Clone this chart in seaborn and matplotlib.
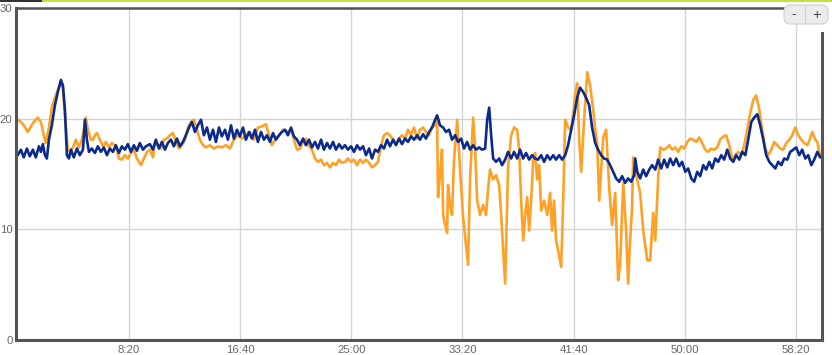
import matplotlib
matplotlib.use("Agg")
import matplotlib.pyplot as plt
from matplotlib.ticker import FuncFormatter, FixedLocator
from matplotlib.patches import FancyBboxPatch, Rectangle
import seaborn as sns
import pandas as pd

# ---- data (time in seconds, value) ----
navy_t = [0, 14, 27, 41, 54, 68, 81, 95, 104, 113, 122, 131, 140, 153, 167, 180, 194, 203, 212, 221,
          230, 239, 252, 266, 279, 293, 302, 311, 320, 333, 347, 360, 374, 387, 401, 414, 428, 441, 455,
          468, 482, 495, 509, 522, 536, 549, 563, 576, 594, 608, 621, 635, 648, 662, 675, 689, 702, 716,
          729, 743, 756, 770, 783, 797, 810, 824, 837, 851, 864, 878, 891, 905, 918, 932, 945, 959, 972,
          986, 999, 1013, 1026, 1040, 1053, 1067, 1080, 1094, 1107, 1121, 1134, 1148, 1161, 1175, 1188,
          1202, 1215, 1229, 1242, 1256, 1269, 1283, 1296, 1310, 1323, 1337, 1350, 1364, 1377, 1391, 1404,
          1418, 1431, 1445, 1458, 1472, 1485, 1499, 1512, 1526, 1539, 1553, 1566, 1580, 1593, 1607, 1620,
          1634, 1647, 1661, 1674, 1688, 1701, 1715, 1728, 1742, 1755, 1769, 1782, 1796, 1809, 1823, 1836,
          1850, 1863, 1877, 1886, 1899, 1913, 1926, 1940, 1953, 1967, 1980, 1994, 2007, 2021, 2034, 2048,
          2061, 2075, 2088, 2102, 2111, 2120, 2129, 2138, 2151, 2165, 2178, 2192, 2205, 2219, 2232, 2246,
          2259, 2273, 2286, 2300, 2313, 2327, 2340, 2354, 2367, 2381, 2394, 2408, 2421, 2435, 2448, 2462,
          2475, 2489, 2502, 2516, 2529, 2543, 2556, 2570, 2583, 2597, 2610, 2624, 2637, 2651, 2664, 2678,
          2691, 2705, 2718, 2732, 2745, 2759, 2772, 2777, 2786, 2799, 2813, 2826, 2840, 2853, 2867, 2880,
          2894, 2907, 2921, 2934, 2948, 2961, 2975, 2988, 3002, 3015, 3029, 3042, 3056, 3069, 3083, 3096,
          3110, 3123, 3137, 3150, 3164, 3177, 3191, 3204, 3218, 3231, 3245, 3258, 3272, 3285, 3299, 3312,
          3326, 3339, 3353, 3366, 3380, 3393, 3407, 3420, 3434, 3447, 3461, 3474, 3488, 3501, 3515, 3528,
          3542, 3555, 3569, 3582, 3596, 3609]
navy_v = [16.7, 17.2, 16.5, 17.3, 16.6, 17.2, 16.5, 17.5, 17.0, 17.7, 16.7, 16.4, 18.1, 19.4, 21.2, 22.4, 23.5, 23.0, 20.8, 16.7,
          16.4, 17.2, 16.5, 17.3, 16.7, 17.2, 19.9, 18.1, 17.0, 17.3, 16.9, 17.5, 17.0, 17.4, 16.7, 17.3, 17.0, 17.6, 16.9,
          17.5, 17.2, 17.7, 17.0, 17.6, 17.1, 17.8, 17.2, 17.5, 17.7, 17.2, 18.1, 17.3, 17.9, 17.2, 17.8, 18.1, 17.5, 18.2,
          17.5, 17.9, 18.5, 19.2, 19.7, 18.8, 19.4, 19.9, 18.5, 19.2, 18.1, 19.0, 17.9, 19.2, 18.4, 19.0, 18.1, 19.4, 18.2,
          19.0, 18.4, 19.2, 18.1, 18.8, 18.2, 19.0, 17.9, 18.8, 18.1, 18.5, 17.9, 18.7, 18.1, 18.5, 18.8,
          19.0, 18.5, 19.2, 18.4, 18.1, 17.6, 18.2, 17.6, 18.1, 17.4, 17.9, 17.3, 18.1, 17.2, 17.8, 17.3,
          17.9, 17.2, 17.7, 17.3, 17.6, 17.2, 17.5, 17.0, 17.6, 17.2, 17.5, 16.7, 17.3, 16.4, 17.2, 17.0,
          17.6, 17.3, 18.1, 17.5, 18.1, 17.6, 18.2, 17.7, 18.2, 17.9, 18.4, 18.1, 18.5, 18.1, 18.6, 18.2,
          18.8, 19.2, 19.9, 20.3, 19.4, 19.2, 18.8, 19.0, 18.1, 18.5, 17.9, 18.2, 17.3, 17.9, 17.2, 17.6,
          17.2, 17.4, 17.2, 17.3, 19.9, 21.0, 18.5, 16.4, 16.1, 16.4, 15.8, 16.3, 17.0, 16.4, 17.0, 16.4,
          17.2, 16.4, 16.9, 16.3, 16.7, 16.4, 16.3, 16.7, 16.1, 16.7, 16.3, 16.7, 16.3, 16.7, 16.3, 16.7,
          17.6, 19.0, 20.3, 21.9, 22.8, 22.4, 21.9, 21.2, 19.2, 17.8, 17.2, 16.7, 16.4, 16.3, 15.8, 15.2,
          14.6, 14.3, 14.8, 14.2, 14.6, 14.3, 14.9, 16.4, 15.2, 14.6, 15.4, 14.8, 15.4, 15.8, 15.4, 16.3,
          15.5, 16.3, 15.6, 16.4, 15.8, 16.4, 15.7, 16.1, 15.2, 15.5, 14.6, 14.3, 15.2, 14.8, 15.8, 15.4,
          16.1, 15.5, 16.4, 16.1, 16.7, 16.3, 17.2, 16.4, 16.1, 16.7, 16.3, 17.0, 16.7, 18.1, 19.7, 20.1,
          20.4, 19.4, 18.1, 16.7, 16.1, 15.8, 15.5, 16.1, 15.8, 16.4, 16.3, 17.0, 17.2, 17.4, 16.7, 17.2,
          16.4, 16.7, 15.8, 16.3, 17.0, 16.5]

orange_t = [0, 14, 27, 45, 59, 72, 90, 104, 117, 126, 140, 153, 167, 180, 194, 203, 212, 225, 239, 252,
            261, 275, 288, 297, 306, 315, 329, 338, 347, 356, 369, 383, 396, 410, 423, 441, 455, 468, 482,
            495, 509, 522, 536, 554, 567, 581, 594, 608, 617, 630, 644, 657, 671, 684, 698, 711, 725, 738,
            752, 765, 779, 792, 806, 819, 833, 846, 864, 882, 900, 918, 936, 954, 972, 990, 1008, 1026,
            1044, 1062, 1080, 1098, 1116, 1130, 1143, 1157, 1175, 1193, 1211, 1229, 1242, 1256, 1269, 1283,
            1296, 1310, 1323, 1337, 1350, 1364, 1377, 1391, 1404, 1418, 1431, 1445, 1458, 1472, 1485, 1499,
            1512, 1526, 1539, 1553, 1566, 1580, 1593, 1607, 1620, 1634, 1647, 1661, 1674, 1688, 1701, 1715,
            1728, 1742, 1755, 1769, 1782, 1796, 1809, 1823, 1836, 1850, 1863, 1877, 1886, 1890, 1899, 1908,
            1913, 1922, 1931, 1935, 1944, 1953, 1962, 1976, 1989, 2003, 2016, 2025, 2034, 2048, 2057, 2066,
            2079, 2093, 2106, 2115, 2124, 2138, 2151, 2165, 2174, 2183, 2192, 2205, 2219, 2232, 2246, 2255,
            2264, 2273, 2282, 2291, 2300, 2309, 2318, 2327, 2336, 2345, 2354, 2367, 2381, 2394, 2403, 2412,
            2421, 2430, 2444, 2453, 2462, 2475, 2489, 2498, 2507, 2516, 2525, 2534, 2547, 2561, 2574, 2588,
            2597, 2606, 2615, 2624, 2633, 2646, 2660, 2673, 2687, 2700, 2709, 2723, 2736, 2745, 2754, 2763,
            2768, 2781, 2799, 2813, 2831, 2844, 2858, 2867, 2880, 2889, 2903, 2916, 2930, 2943, 2957, 2970,
            2984, 2997, 3011, 3024, 3038, 3051, 3065, 3078, 3092, 3105, 3119, 3132, 3146, 3159, 3173, 3186,
            3200, 3213, 3227, 3240, 3254, 3267, 3281, 3294, 3308, 3321, 3335, 3348, 3362, 3375, 3389, 3402,
            3416, 3429, 3443, 3456, 3470, 3483, 3497, 3510, 3524, 3537, 3551, 3564, 3573, 3587, 3596, 3609]
orange_v = [19.9, 19.7, 19.4, 18.8, 19.3, 19.7, 20.1, 19.7, 18.5, 17.8, 19.2, 21.0, 21.9, 22.6, 23.2, 22.8, 20.3, 17.2, 17.0, 17.6,
            18.1, 17.4, 18.1, 19.0, 20.1, 19.0, 18.1, 18.1, 18.5, 18.7, 18.1, 17.5, 17.9, 17.4, 17.8, 17.5, 16.4, 16.3, 16.7,
            16.4, 16.9, 17.2, 16.4, 15.8, 16.4, 17.0, 17.2, 16.5, 17.9, 17.6, 17.3, 18.1, 18.2, 18.5, 18.7, 17.9, 17.3, 17.6,
            18.1, 19.2, 19.7, 19.9, 19.0, 18.1, 17.6, 17.4, 17.6, 17.3, 17.5, 17.4, 17.6, 17.3, 18.1, 18.5, 18.2, 18.5,
            18.8, 18.1, 19.2, 19.3, 19.5, 18.5, 17.6, 18.1, 18.5, 19.0, 18.8, 19.0, 18.1, 17.2, 17.3, 17.9,
            18.2, 17.5, 17.2, 16.4, 16.1, 16.3, 15.8, 16.0, 15.6, 16.0, 15.8, 16.3, 16.0, 16.1, 16.4, 16.1,
            16.3, 15.8, 16.3, 16.0, 16.3, 16.0, 15.6, 15.8, 16.1, 17.6, 18.5, 18.7, 18.5, 18.1, 17.8, 18.2,
            18.5, 18.2, 19.0, 18.5, 19.2, 18.2, 19.0, 19.2, 18.8, 18.5, 19.2, 19.4, 19.9, 12.9, 14.9, 17.2,
            11.3, 10.4, 9.7, 14.0, 12.2, 11.3, 16.3, 19.9, 15.4, 11.1, 8.6, 6.8, 14.5, 20.1, 17.2, 12.6,
            11.3, 12.2, 11.3, 13.6, 15.4, 14.5, 14.9, 14.0, 11.3, 8.1, 5.1, 15.6, 18.5, 19.2, 19.0, 17.2,
            12.6, 9.0, 11.3, 12.9, 9.9, 12.6, 16.3, 16.9, 14.5, 15.8, 11.7, 12.6, 11.3, 13.3, 9.9, 12.6,
            9.0, 8.1, 6.6, 12.6, 19.9, 19.2, 19.0, 20.5, 22.1, 23.2, 18.1, 15.2, 19.9, 24.2, 23.0, 20.8,
            19.0, 17.8, 12.6, 15.4, 18.3, 19.0, 13.8, 10.4, 13.3, 5.4, 6.8, 14.2, 9.9, 5.1, 9.0, 12.0,
            16.5, 14.9, 13.3, 9.9, 7.2, 7.2, 11.5, 9.0, 14.5, 17.4, 17.2, 17.3, 17.6, 17.2, 17.4, 17.0,
            17.5, 17.3, 17.9, 18.2, 18.1, 17.9, 18.3, 17.8, 17.2, 17.0, 17.3, 17.2, 17.4, 18.1, 18.4, 18.5,
            17.6, 16.3, 16.7, 17.0, 16.7, 17.6, 19.0, 20.5, 21.7, 22.1, 20.8, 19.0, 17.3, 16.7, 17.2, 17.9,
            17.6, 17.3, 17.2, 17.8, 18.1, 18.5, 19.2, 18.5, 18.1, 17.8, 17.6, 18.2, 18.8, 18.1, 17.9, 16.5]

series_names = ["Orange", "Navy"]
series_colors = ["#ffa126", "#0b2a8e"]
y_ticks = [0, 10, 20, 30]
x_ticks = [500, 1000, 1500, 2000, 2500, 3000, 3500]

df = pd.concat([
    pd.DataFrame({"t": orange_t, "v": orange_v, "series": series_names[0]}),
    pd.DataFrame({"t": navy_t, "v": navy_v, "series": series_names[1]}),
], ignore_index=True)

sns.set_style("white")
plt.rcParams["font.family"] = ["Liberation Sans", "DejaVu Sans"]

W, H = 832, 355
fig = plt.figure(figsize=(W / 100, H / 100), dpi=100)
ax = fig.add_axes([16 / W, 15 / H, 806 / W, 332 / H])

sns.lineplot(data=df, x="t", y="v", hue="series", hue_order=series_names,
             palette=dict(zip(series_names, series_colors)), legend=False,
             linewidth=1.9, ax=ax, sort=False, estimator=None)

ax.set_xlim(-8, 3617)
ax.set_ylim(0, 30)
ax.xaxis.set_major_locator(FixedLocator(x_ticks))
ax.yaxis.set_major_locator(FixedLocator(y_ticks))
ax.xaxis.set_major_formatter(FuncFormatter(lambda t, p: f"{int(t // 60)}:{int(t % 60):02d}"))
ax.set_xlabel("")
ax.set_ylabel("")
ax.grid(True, color="#d4d4d4", linewidth=1.0)
ax.set_axisbelow(True)
ax.tick_params(axis="both", length=0, labelsize=8.2, labelcolor="#666666")
ax.tick_params(axis="x", pad=3.5)
ax.tick_params(axis="y", pad=2.5)

for side in ["left", "bottom", "right", "top"]:
    ax.spines[side].set_visible(True)
    ax.spines[side].set_color("#555555")
    ax.spines[side].set_linewidth(2.2)
ax.spines["top"].set_linewidth(1.8)
ax.spines["top"].set_bounds(-8, 3442)
ax.spines["right"].set_bounds(0, 27.7)

# top color bar
fig.patches.append(Rectangle((0, 1 - 2 / H), 42 / W, 2 / H, transform=fig.transFigure,
                             facecolor="#333333", edgecolor="none", zorder=10))
fig.patches.append(Rectangle((42 / W, 1 - 2 / H), 1 - 42 / W, 2 / H, transform=fig.transFigure,
                             facecolor="#c8e03c", edgecolor="none", zorder=10))

# zoom buttons
btn = FancyBboxPatch((784 / W, 1 - 24 / H), 44 / W, 19 / H,
                     boxstyle="round,pad=0,rounding_size=0.008",
                     transform=fig.transFigure, facecolor="#ececec", edgecolor="#cfcfcf",
                     linewidth=0.8, zorder=11, mutation_aspect=W / H)
fig.patches.append(btn)
fig.add_artist(plt.Line2D([805 / W, 805 / W], [1 - 23.5 / H, 1 - 5.5 / H], transform=fig.transFigure,
                          color="#cfcfcf", linewidth=0.8, zorder=12))
fig.text(794 / W, 1 - 14.5 / H, "-", ha="center", va="center", fontsize=10, color="#444444", zorder=13)
fig.text(817 / W, 1 - 14.5 / H, "+", ha="center", va="center", fontsize=10.5, color="#444444", zorder=13)

fig.savefig("out.png", dpi=100)
